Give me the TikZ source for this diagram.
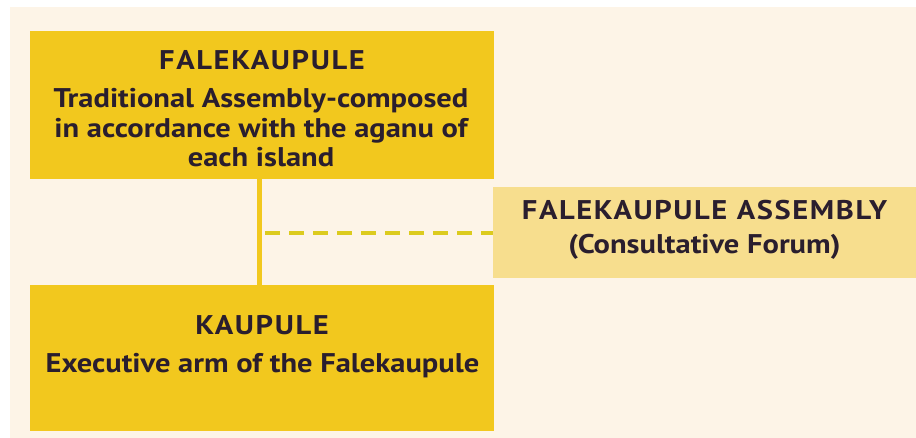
\documentclass[tikz,border=0pt]{standalone}
\usepackage{fontspec}
\setmainfont{PT Sans}[FakeStretch=1.13]
\definecolor{cream}{HTML}{FDF4E7}
\definecolor{gold}{HTML}{F2C81E}
\definecolor{pale}{HTML}{F7DE8E}
\definecolor{ink}{HTML}{2A1E2E}
\definecolor{dashgold}{HTML}{DCCB1E}
\tikzset{
  box/.style={fill=gold, draw=none, anchor=north west, inner sep=0pt},
  abox/.style={fill=pale, draw=none, anchor=north west, inner sep=0pt},
  conn/.style={draw=gold, line width=5pt},
  dashconn/.style={draw=dashgold, line width=4pt, dash pattern=on 15pt off 9pt},
  ttl/.style={text=ink, inner sep=0pt, anchor=base, font=\fontsize{27}{29.5}\selectfont\bfseries\addfontfeatures{LetterSpace=6}},
  body/.style={text=ink, inner sep=0pt, anchor=base, align=center, font=\fontsize{27}{29.5}\selectfont\bfseries},
}
\begin{document}
\begin{tikzpicture}[x=1pt,y=-1pt]
\useasboundingbox (0,0) rectangle (916,438);
\fill[white] (0,0) rectangle (916,438);
\fill[cream] (10,7) rectangle (916,438);
\node[box, minimum width=464pt, minimum height=148pt] (fale) at (30,31) {};
\node[box, minimum width=464pt, minimum height=146pt] (kau) at (30,285) {};
\node[abox, minimum width=423pt, minimum height=91pt] (assem) at (493,187) {};
\draw[conn] ([xshift=229.5pt]fale.south west) -- ([xshift=229.5pt]kau.north west);
\draw[dashconn] ([xshift=235pt]fale.south west |- assem.west) -- (assem.west);
\node[ttl] (faleT) at (262,70) {FALEKAUPULE};
\node[body] (faleB) at (261,167) {Traditional Assembly-composed\\in accordance with the aganu of\\each island};
\node[ttl] (kauT) at (262,335) {KAUPULE};
\node[body] (kauB) at (262.5,373) {Executive arm of the Falekaupule};
\node[ttl] (assemT) at (704.5,220) {FALEKAUPULE ASSEMBLY};
\node[body] (assemB) at (704.5,254) {(Consultative Forum)};
\end{tikzpicture}
\end{document}
